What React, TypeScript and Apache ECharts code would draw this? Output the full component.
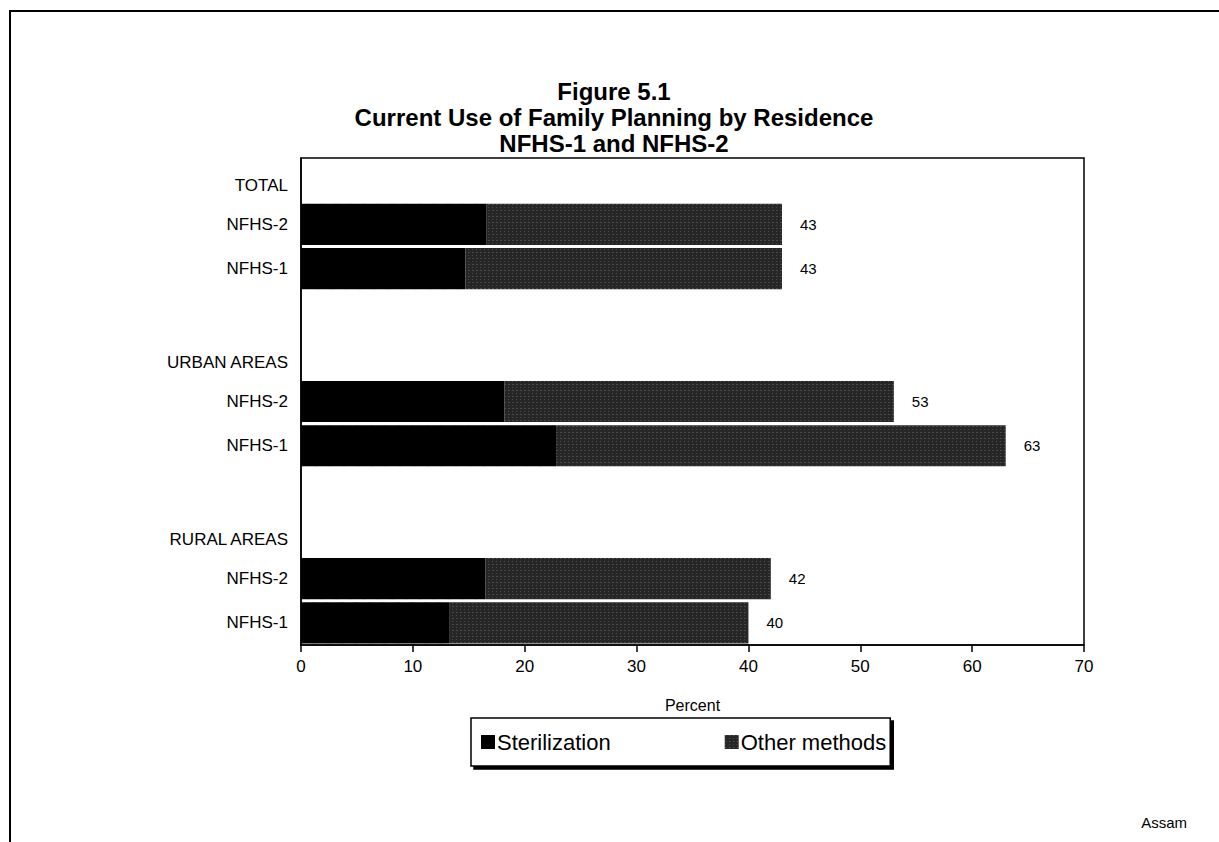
import React, { useEffect, useRef } from "react";
import * as echarts from "echarts";

// Row layout of the horizontal bar chart, top to bottom
const categories = [
  "TOTAL",
  "NFHS-2",
  "NFHS-1",
  "",
  "URBAN AREAS",
  "NFHS-2",
  "NFHS-1",
  " ",
  "RURAL AREAS",
  "NFHS-2",
  "NFHS-1",
];
const groupHeaders = ["TOTAL", "URBAN AREAS", "RURAL AREAS"];

// Percent of currently married women using each kind of method
const sterilization = [null, 16.6, 14.7, null, null, 18.2, 22.8, null, null, 16.5, 13.3];
const otherMethods = [null, 26.4, 28.3, null, null, 34.8, 40.2, null, null, 25.5, 26.7];
const totalUse = [null, 43, 43, null, null, 53, 63, null, null, 42, 40];

const xTicks = { min: 0, max: 70, interval: 10 };

const FONT = "'Liberation Sans', Arial, Helvetica, sans-serif";

export default function App() {
  const ref = useRef<HTMLDivElement>(null);

  useEffect(() => {
    if (!ref.current) return;
    const chart = echarts.init(ref.current, null, { renderer: "svg" });

    chart.setOption({
      animation: false,
      backgroundColor: "#ffffff",
      aria: { enabled: true, decal: { show: true } },
      title: {
        text: "Figure 5.1\nCurrent Use of Family Planning by Residence\nNFHS-1 and NFHS-2",
        left: 614,
        textAlign: "center",
        top: 78,
        padding: 0,
        textStyle: {
          fontFamily: FONT,
          fontSize: 24,
          fontWeight: "bold",
          lineHeight: 26,
          color: "#000",
        },
      },
      grid: {
        left: 301,
        right: 135,
        top: 158,
        bottom: 197,
        show: true,
        borderColor: "#000",
        borderWidth: 1.5,
        backgroundColor: "transparent",
      },
      legend: {
        left: 471,
        top: 718,
        padding: [13, 4, 13, 10],
        itemGap: 114,
        itemWidth: 14,
        itemHeight: 14,
        icon: "rect",
        backgroundColor: "#fff",
        borderColor: "#000",
        borderWidth: 1.5,
        shadowColor: "#000",
        shadowOffsetX: 3,
        shadowOffsetY: 3,
        shadowBlur: 0,
        textStyle: { fontFamily: FONT, fontSize: 22, color: "#000", padding: [0, 0, 0, -3] },
        data: ["Sterilization", "Other methods"],
      },
      xAxis: {
        type: "value",
        min: xTicks.min,
        max: xTicks.max,
        interval: xTicks.interval,
        name: "Percent",
        nameLocation: "middle",
        nameGap: 52,
        nameTextStyle: { fontFamily: FONT, fontSize: 16, color: "#000" },
        axisLine: { show: true, lineStyle: { color: "#000", width: 1.5 } },
        axisTick: { show: true, length: 7, lineStyle: { color: "#000", width: 1.5 } },
        axisLabel: { fontFamily: FONT, fontSize: 17, color: "#000", margin: 13 },
        splitLine: { show: false },
      },
      yAxis: {
        type: "category",
        inverse: true,
        data: categories,
        axisLine: { show: true, lineStyle: { color: "#000", width: 1.5 } },
        axisTick: { show: false },
        axisLabel: {
          fontFamily: FONT,
          fontSize: 17,
          color: "#000",
          margin: 13,
          formatter: (v: string) => (groupHeaders.includes(v) ? `{h|${v}}` : v),
          rich: {
            h: { fontFamily: FONT, fontSize: 17, color: "#000", padding: [10, 0, 0, 0] },
          },
        },
      },
      series: [
        {
          name: "Sterilization",
          type: "bar",
          stack: "use",
          data: sterilization,
          barCategoryGap: "7%",
          itemStyle: { color: "#000", decal: "none" },
        },
        {
          name: "Other methods",
          type: "bar",
          stack: "use",
          data: otherMethods,
          barCategoryGap: "7%",
          itemStyle: {
            color: "#262626",
            decal: {
              symbol: "rect",
              symbolSize: 0.6,
              color: "rgba(255,255,255,0.55)",
              dashArrayX: [[1, 3], [2, 2]],
              dashArrayY: [1, 2],
              rotation: 0,
            },
          },
          label: {
            show: true,
            position: "right",
            distance: 18,
            fontFamily: FONT,
            fontSize: 15,
            color: "#000",
            formatter: (p: any) => String(totalUse[p.dataIndex]),
          },
        },
      ],
      graphic: [
        // page frame
        {
          type: "line",
          shape: { x1: 9, y1: 11, x2: 1219, y2: 11 },
          style: { stroke: "#000", lineWidth: 2 },
        },
        {
          type: "line",
          shape: { x1: 10, y1: 10, x2: 10, y2: 842 },
          style: { stroke: "#000", lineWidth: 2 },
        },
        {
          type: "text",
          x: 1187,
          y: 822,
          style: {
            text: "Assam",
            fontFamily: FONT,
            fontSize: 15,
            fill: "#000",
            textAlign: "right",
            textVerticalAlign: "middle",
          },
        },
      ],
    });

    return () => chart.dispose();
  }, []);

  return (
    <div
      ref={ref}
      style={{ position: "fixed", left: 0, top: 0, width: 1219, height: 842 }}
    />
  );
}
